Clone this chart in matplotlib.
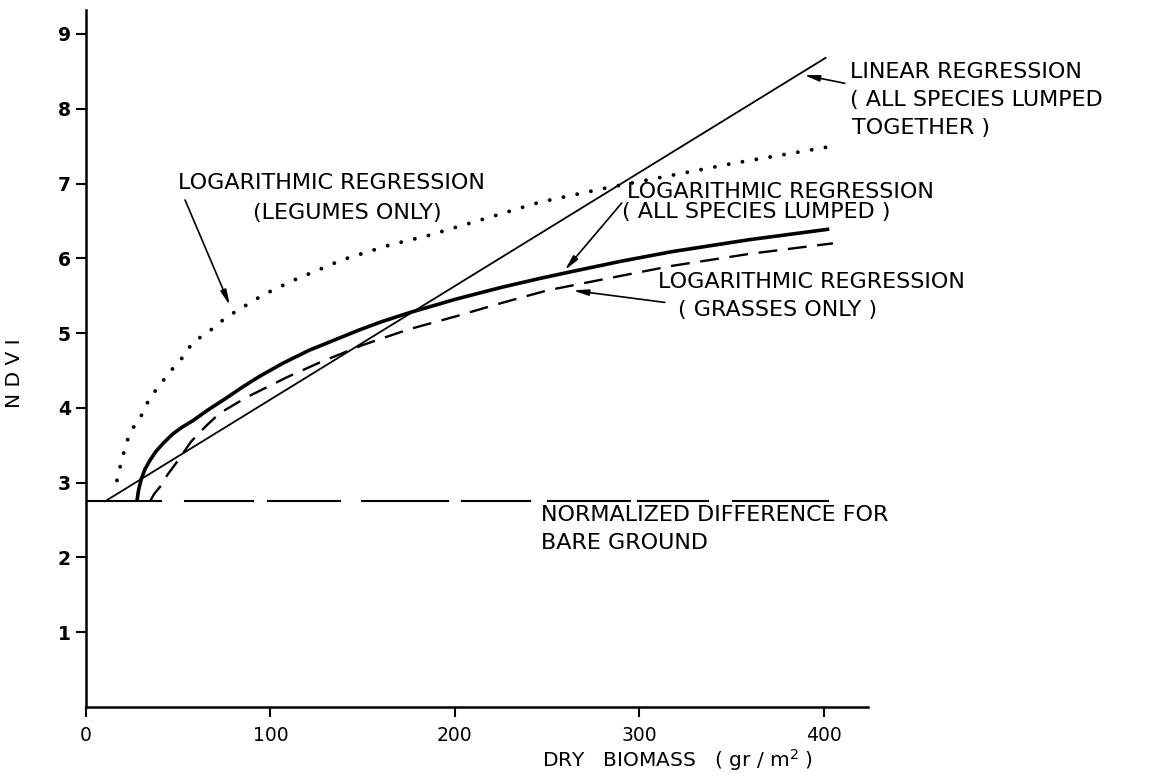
import matplotlib.pyplot as plt

plt.rcParams['font.family'] = ['DejaVu Sans']

# data
x_ticks = [0, 100, 200, 300, 400]
y_ticks = [1, 2, 3, 4, 5, 6, 7, 8, 9]

linear_x = [10.3, 401]
linear_y = [2.75, 8.68]

lumped_x = [27.6, 28.5, 30, 32, 34.7, 38, 42, 47, 52, 58, 66, 76, 85, 94, 107,
            121, 135, 148, 160, 175, 200, 225, 246, 261, 290, 318, 360, 403]
lumped_y = [2.75, 2.90, 3.05, 3.18, 3.30, 3.42, 3.53, 3.65, 3.74, 3.83, 3.97,
            4.13, 4.28, 4.42, 4.60, 4.77, 4.91, 5.04, 5.15, 5.27, 5.45, 5.61,
            5.73, 5.81, 5.96, 6.09, 6.25, 6.39]

grass_x = [34.7, 37, 41, 44, 50, 57, 65.6, 72.6, 87, 109, 127, 150, 175, 200,
           225, 250, 278.6, 318, 360, 405]
grass_y = [2.75, 2.85, 2.97, 3.10, 3.30, 3.55, 3.77, 3.93, 4.14, 4.41, 4.61,
           4.84, 5.05, 5.22, 5.40, 5.57, 5.71, 5.90, 6.06, 6.20]

legume_x = [16.8, 19.5, 22.9, 26, 29.3, 34.7, 40, 44, 52.6, 58, 65.6, 76, 84,
            96, 112, 139, 165, 185, 215, 246, 282, 326, 351, 405]
legume_y = [3.03, 3.32, 3.60, 3.75, 3.86, 4.14, 4.30, 4.44, 4.68, 4.88, 5.00,
            5.21, 5.33, 5.51, 5.70, 5.98, 6.18, 6.30, 6.52, 6.75, 6.94, 7.15,
            7.27, 7.50]

bare_level = 2.76
bare_starts = [0, 53.7, 98.6, 149.6, 203.8, 250.4, 299.2, 350.7]
bare_ends = [40.4, 90.5, 137.7, 196.2, 240.7, 294.9, 337.1, 402.2]

fig = plt.figure(figsize=(11.5, 7.77), dpi=100)
ax = fig.add_axes([86 / 1150, 70 / 777, (868 - 86) / 1150, (707 - 10) / 777])
ax.set_xlim(0, 424)
ax.set_ylim(0, 9.32)

ax.plot(linear_x, linear_y, color='black', lw=1.3)
ax.plot(lumped_x, lumped_y, color='black', lw=2.6, solid_capstyle='butt')
ax.plot(grass_x, grass_y, color='black', lw=1.7, linestyle=(0, (8, 4.5)))
ax.plot(legume_x, legume_y, color='black', lw=2.8,
        linestyle=(0, (0.01, 3.6)), dash_capstyle='round')
for s, e in zip(bare_starts, bare_ends):
    ax.plot([s, e], [bare_level, bare_level], color='black', lw=1.5)

for side in ['top', 'right']:
    ax.spines[side].set_visible(False)
for side in ['left', 'bottom']:
    ax.spines[side].set_linewidth(1.8)

ax.set_xticks(x_ticks)
ax.set_yticks(y_ticks)
ax.tick_params(axis='both', direction='out', length=7, width=1.5, color='black')
ax.tick_params(axis='x', labelsize=13.5, pad=7)
ax.tick_params(axis='y', labelsize=13.5, pad=4)
for lab in ax.get_yticklabels():
    lab.set_fontweight('bold')

fig.text(15 / 1150, 1 - 373 / 777, 'N D V I', rotation=90, fontsize=14.5,
         ha='center', va='center')
fig.text(542 / 1150, 1 - 760 / 777, 'DRY   BIOMASS   ( gr / m$^2$ )',
         fontsize=14.5, ha='left', va='center')


def label(px, py, s):
    fig.text(px / 1150, 1 - py / 777, s, fontsize=16, ha='left', va='center')


label(850, 72, 'LINEAR REGRESSION')
label(850, 100, '( ALL SPECIES LUMPED')
label(852, 128, 'TOGETHER )')
label(178, 183, 'LOGARITHMIC REGRESSION')
label(253, 213, '(LEGUMES ONLY)')
label(627, 192, 'LOGARITHMIC REGRESSION')
label(622, 212, '( ALL SPECIES LUMPED )')
label(658, 282, 'LOGARITHMIC REGRESSION')
label(678, 310, '( GRASSES ONLY )')
label(541, 515, 'NORMALIZED DIFFERENCE FOR')
label(541, 543, 'BARE GROUND')

arrow = dict(arrowstyle='-|>,head_length=0.9,head_width=0.18', color='black',
             lw=1.2, shrinkA=0, shrinkB=0)
ax.annotate('', xy=(389.2, 8.45), xytext=(411.4, 8.34), arrowprops=arrow,
            annotation_clip=False)
ax.annotate('', xy=(78, 5.37), xytext=(53.7, 6.78), arrowprops=arrow)
ax.annotate('', xy=(259.6, 5.84), xytext=(290.5, 6.74), arrowprops=arrow)
ax.annotate('', xy=(264, 5.57), xytext=(313.8, 5.41), arrowprops=arrow)

fig.savefig('out.png', dpi=100)
